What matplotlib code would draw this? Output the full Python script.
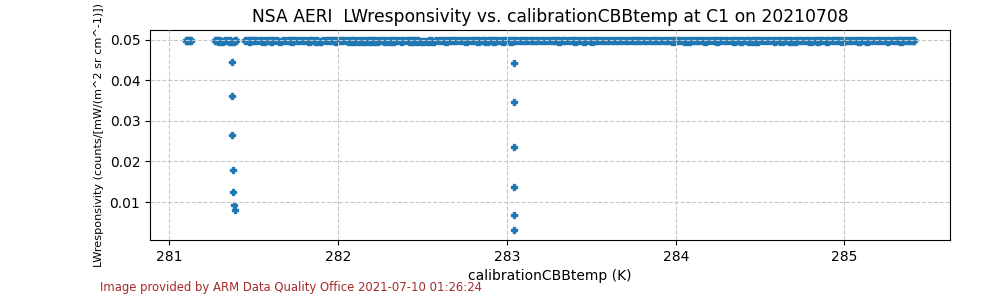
import matplotlib
matplotlib.use("Agg")
import matplotlib.pyplot as plt

# main band of responsivity values (x positions shared by both readings)
band_x = [
    281.10, 281.11, 281.12,
    281.27, 281.29, 281.31, 281.33, 281.35, 281.37, 281.39, 281.45, 281.47, 281.49,
    281.50, 281.53, 281.55, 281.58, 281.60, 281.62, 281.65, 281.67, 281.70, 281.72,
    281.74, 281.77, 281.79, 281.82, 281.84, 281.86, 281.89, 281.91, 281.94, 281.96,
    281.98, 282.01, 282.03, 282.06, 282.08, 282.10, 282.13, 282.15, 282.18, 282.20,
    282.22, 282.25, 282.27, 282.30, 282.32, 282.34, 282.37, 282.39, 282.42, 282.44,
    282.46, 282.49, 282.51, 282.54, 282.56, 282.58, 282.61, 282.63, 282.66, 282.68,
    282.70, 282.73, 282.75, 282.78, 282.80, 282.82, 282.85, 282.87, 282.90, 282.92,
    282.94, 282.97, 282.99, 283.02, 283.04, 283.06, 283.09, 283.11, 283.14, 283.16,
    283.18, 283.21, 283.23, 283.26, 283.28, 283.30, 283.33, 283.35, 283.38, 283.40,
    283.42, 283.45, 283.47, 283.50, 283.52, 283.54, 283.57, 283.59, 283.62, 283.64,
    283.66, 283.69, 283.71, 283.74, 283.76, 283.78, 283.81, 283.83, 283.86, 283.88,
    283.90, 283.93, 283.95, 283.98, 284.00, 284.02, 284.05, 284.07, 284.10, 284.12,
    284.14, 284.17, 284.19, 284.22, 284.24, 284.26, 284.29, 284.31, 284.34, 284.36,
    284.38, 284.41, 284.43, 284.46, 284.48, 284.50, 284.53, 284.55, 284.58, 284.60,
    284.62, 284.65, 284.67, 284.70, 284.72, 284.74, 284.77, 284.79, 284.82, 284.84,
    284.86, 284.89, 284.91, 284.94, 284.96, 284.98, 285.01, 285.03, 285.06, 285.08,
    285.10, 285.13, 285.15, 285.18, 285.20, 285.22, 285.25, 285.27, 285.30, 285.32,
    285.33, 285.35, 285.37, 285.39, 285.41,
]
# second pass of samples, in between the first
band_x2 = [
    281.105, 281.115, 281.125,
    281.28, 281.30, 281.32, 281.34, 281.36, 281.38, 281.395, 281.46, 281.48, 281.495,
    281.515, 281.54, 281.565, 281.59, 281.61, 281.635, 281.66, 281.685, 281.71, 281.73,
    281.755, 281.78, 281.805, 281.83, 281.85, 281.875, 281.90, 281.925, 281.95, 281.97,
    281.995, 282.02, 282.045, 282.07, 282.09, 282.115, 282.14, 282.165, 282.19, 282.21,
    282.235, 282.26, 282.285, 282.31, 282.33, 282.355, 282.38, 282.405, 282.43, 282.45,
    282.475, 282.50, 282.525, 282.55, 282.57, 282.595, 282.62, 282.645, 282.67, 282.69,
    282.715, 282.74, 282.765, 282.79, 282.81, 282.835, 282.86, 282.885, 282.91, 282.93,
    282.955, 282.98, 283.005, 283.03, 283.05, 283.075, 283.10, 283.125, 283.15, 283.17,
    283.195, 283.22, 283.245, 283.27, 283.29, 283.315, 283.34, 283.365, 283.39, 283.41,
    283.435, 283.46, 283.485, 283.51, 283.53, 283.555, 283.58, 283.605, 283.63, 283.65,
    283.675, 283.70, 283.725, 283.75, 283.77, 283.795, 283.82, 283.845, 283.87, 283.89,
    283.915, 283.94, 283.965, 283.99, 284.01, 284.035, 284.06, 284.085, 284.11, 284.13,
    284.155, 284.18, 284.205, 284.23, 284.25, 284.275, 284.30, 284.325, 284.35, 284.37,
    284.395, 284.42, 284.445, 284.47, 284.49, 284.515, 284.54, 284.565, 284.59, 284.61,
    284.635, 284.66, 284.685, 284.71, 284.73, 284.755, 284.78, 284.805, 284.83, 284.85,
    284.875, 284.90, 284.925, 284.95, 284.97, 284.995, 285.02, 285.045, 285.07, 285.09,
    285.115, 285.14, 285.165, 285.19, 285.21, 285.235, 285.26, 285.285, 285.31, 285.325,
    285.34, 285.36, 285.38, 285.40, 285.405,
]
# lower reading at each position
band_y_lo = [
    0.04955, 0.04960, 0.04955,
    0.04955, 0.04950, 0.04945, 0.04955, 0.04950, 0.04945, 0.04955, 0.04955, 0.04950, 0.04955,
    0.04960, 0.04955, 0.04950, 0.04955, 0.04950, 0.04955, 0.04945, 0.04955, 0.04955, 0.04950,
    0.04955, 0.04955, 0.04960, 0.04950, 0.04955, 0.04950, 0.04945, 0.04955, 0.04955, 0.04955,
    0.04950, 0.04955, 0.04955, 0.04950, 0.04950, 0.04950, 0.04950, 0.04950, 0.04950, 0.04950,
    0.04950, 0.04955, 0.04950, 0.04950, 0.04950, 0.04955, 0.04950, 0.04955, 0.04950, 0.04950,
    0.04950, 0.04945, 0.04940, 0.04945, 0.04945, 0.04955, 0.04955, 0.04950, 0.04955, 0.04955,
    0.04955, 0.04955, 0.04950, 0.04955, 0.04955, 0.04950, 0.04955, 0.04950, 0.04955, 0.04950,
    0.04955, 0.04950, 0.04955, 0.04950, 0.04955, 0.04955, 0.04960, 0.04955, 0.04960, 0.04955,
    0.04955, 0.04955, 0.04960, 0.04955, 0.04955, 0.04950, 0.04955, 0.04955, 0.04955, 0.04950,
    0.04955, 0.04950, 0.04955, 0.04950, 0.04955, 0.04955, 0.04960, 0.04955, 0.04960, 0.04955,
    0.04955, 0.04955, 0.04960, 0.04955, 0.04955, 0.04955, 0.04955, 0.04960, 0.04955, 0.04955,
    0.04955, 0.04955, 0.04955, 0.04950, 0.04955, 0.04955, 0.04950, 0.04945, 0.04955, 0.04955,
    0.04955, 0.04950, 0.04955, 0.04955, 0.04950, 0.04955, 0.04955, 0.04955, 0.04950, 0.04955,
    0.04950, 0.04955, 0.04950, 0.04945, 0.04950, 0.04955, 0.04955, 0.04955, 0.04950, 0.04955,
    0.04950, 0.04955, 0.04945, 0.04950, 0.04955, 0.04955, 0.04955, 0.04950, 0.04955, 0.04950,
    0.04955, 0.04950, 0.04955, 0.04955, 0.04955, 0.04950, 0.04955, 0.04955, 0.04955, 0.04950,
    0.04955, 0.04950, 0.04955, 0.04955, 0.04955, 0.04955, 0.04950, 0.04955, 0.04955, 0.04955,
    0.04950, 0.04955, 0.04955, 0.04955, 0.04955,
]
# upper reading at each position
band_y_hi = [
    0.04990, 0.04985, 0.04990,
    0.04985, 0.04980, 0.04975, 0.04985, 0.04980, 0.04975, 0.04985, 0.04985, 0.04980, 0.04985,
    0.04990, 0.04985, 0.04980, 0.04990, 0.04980, 0.04985, 0.04975, 0.04985, 0.04985, 0.04980,
    0.04990, 0.04985, 0.04990, 0.04980, 0.04985, 0.04980, 0.04975, 0.04985, 0.04990, 0.04985,
    0.04980, 0.04985, 0.04985, 0.04980, 0.04980, 0.04980, 0.04980, 0.04980, 0.04980, 0.04980,
    0.04980, 0.04985, 0.04980, 0.04980, 0.04980, 0.04985, 0.04980, 0.04985, 0.04980, 0.04980,
    0.04980, 0.04975, 0.04975, 0.04980, 0.04975, 0.04985, 0.04985, 0.04980, 0.04990, 0.04985,
    0.04990, 0.04985, 0.04980, 0.04990, 0.04985, 0.04980, 0.04985, 0.04980, 0.04985, 0.04980,
    0.04985, 0.04980, 0.04985, 0.04980, 0.04985, 0.04990, 0.04995, 0.04990, 0.05000, 0.04990,
    0.04995, 0.04990, 0.05000, 0.04995, 0.04990, 0.04985, 0.04990, 0.04995, 0.04990, 0.04985,
    0.04990, 0.04985, 0.04990, 0.04985, 0.04990, 0.04995, 0.05000, 0.04995, 0.05000, 0.04995,
    0.04990, 0.04995, 0.05000, 0.04990, 0.04995, 0.04990, 0.04995, 0.05000, 0.04990, 0.04995,
    0.04990, 0.04995, 0.04990, 0.04985, 0.04990, 0.04995, 0.04985, 0.04980, 0.04990, 0.04995,
    0.04990, 0.04985, 0.04995, 0.04990, 0.04985, 0.04990, 0.04995, 0.04990, 0.04985, 0.04990,
    0.04985, 0.04990, 0.04985, 0.04980, 0.04985, 0.04990, 0.04995, 0.04990, 0.04985, 0.04990,
    0.04985, 0.04990, 0.04980, 0.04985, 0.04990, 0.04995, 0.04990, 0.04985, 0.04990, 0.04985,
    0.04990, 0.04985, 0.04990, 0.04995, 0.04990, 0.04985, 0.04990, 0.04995, 0.04990, 0.04985,
    0.04990, 0.04985, 0.04995, 0.04990, 0.04995, 0.04990, 0.04985, 0.04990, 0.04995, 0.04990,
    0.04985, 0.04990, 0.04995, 0.04990, 0.04990,
]

# low outliers (two calibration drops)
drop_x = [281.369, 281.370, 281.372, 281.374, 281.375, 281.381, 281.387,
          283.043, 283.043, 283.043, 283.043, 283.043, 283.043]
drop_y = [0.0445, 0.0360, 0.0264, 0.0180, 0.0124, 0.0092, 0.0080,
          0.0442, 0.0346, 0.0235, 0.0138, 0.0069, 0.0030]

title = "NSA AERI  LWresponsivity vs. calibrationCBBtemp at C1 on 20210708"
footer = "Image provided by ARM Data Quality Office 2021-07-10 01:26:24"

fig = plt.figure(figsize=(10, 3), dpi=100)
ax = fig.add_axes([0.15, 0.2, 0.8, 0.7])

xs = band_x + band_x + band_x2 + band_x2 + drop_x
ys = band_y_lo + band_y_hi + band_y_hi + band_y_lo + drop_y
ax.plot(xs, ys, "P", color="#1f77b4", markersize=4.5, markeredgewidth=1.0,
        linestyle="none")

ax.set_xticks([281, 282, 283, 284, 285])
ax.set_yticks([0.01, 0.02, 0.03, 0.04, 0.05])
ax.grid(True, linestyle="--", color="#c8c8c8", linewidth=0.8)
ax.set_axisbelow(False)

ax.set_title(title, fontsize=12.3)
ax.set_xlabel("calibrationCBBtemp (K)")
ax.set_ylabel("LWresponsivity (counts/[mW/(m^2 sr cm^-1)])", fontsize=8.1)

fig.text(0.1, 0.04, footer, color="#a52a2a", fontsize=8.35, va="center")

fig.savefig("out.png", dpi=100)
